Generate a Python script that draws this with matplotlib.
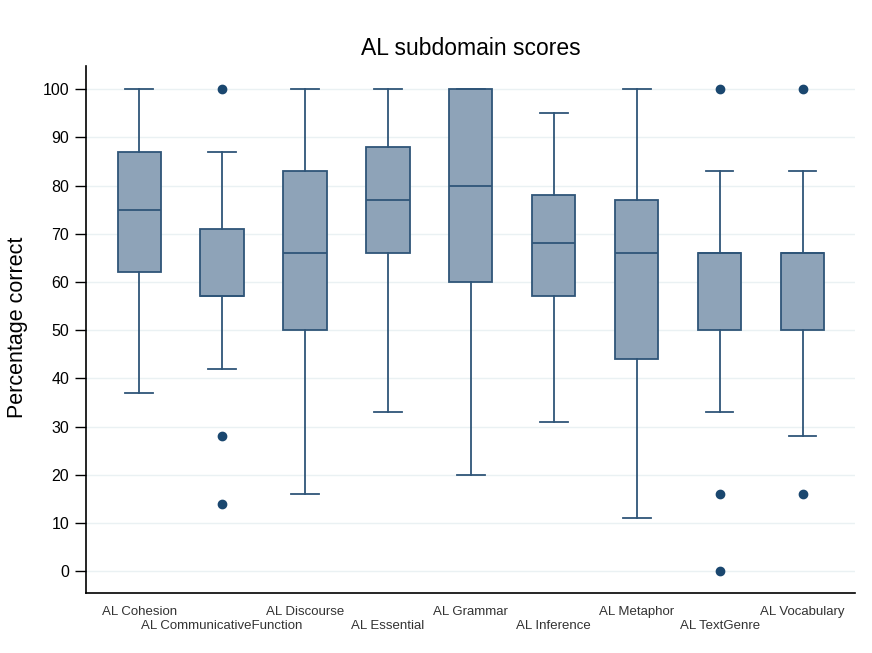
import numpy as np
import matplotlib
matplotlib.use('Agg')
from matplotlib import pyplot as plt

plt.rcParams['font.family'] = ['Liberation Sans', 'DejaVu Sans']

# subdomain names and box statistics
names = ['AL Cohesion', 'AL CommunicativeFunction', 'AL Discourse', 'AL Essential',
         'AL Grammar', 'AL Inference', 'AL Metaphor', 'AL TextGenre', 'AL Vocabulary']
lo_whisk = [37, 42, 16, 33, 20, 31, 11, 33, 28]
q1 = [62, 57, 50, 66, 60, 57, 44, 50, 50]
med = [75, 57, 66, 77, 80, 68, 66, 66, 66]
q3 = [87, 71, 83, 88, 100, 78, 77, 66, 66]
hi_whisk = [100, 87, 100, 100, 100, 95, 100, 83, 83]
outliers = [[], [100, 28, 14], [], [], [], [], [], [100, 16, 0], [100, 16]]

box_fill = '#8ea3b8'
box_edge = '#2f5578'
navy = '#1a476f'

stats = []
for i in range(len(names)):
    stats.append({'whislo': lo_whisk[i], 'q1': q1[i], 'med': med[i], 'q3': q3[i],
                  'whishi': hi_whisk[i], 'fliers': outliers[i], 'label': names[i]})

fig = plt.figure(figsize=(8.72, 6.53), dpi=100)
ax = fig.add_axes([86/872, 1-593/653, (855-86)/872, (593-66)/653])

pos = np.arange(1, len(names)+1)
ax.bxp(stats, positions=pos, widths=0.52, patch_artist=True, showfliers=True,
       boxprops=dict(facecolor=box_fill, edgecolor=box_edge, lw=1.3),
       medianprops=dict(color=box_edge, lw=1.3),
       whiskerprops=dict(color=box_edge, lw=1.3),
       capprops=dict(color=box_edge, lw=1.3),
       capwidths=0.33,
       flierprops=dict(marker='o', markerfacecolor=navy, markeredgecolor=navy, markersize=6))

ax.set_xlim(0.36, 9.63)
ax.set_ylim(-4.5, 104.8)
ax.set_yticks(np.arange(0, 101, 10))
ax.yaxis.grid(True, color='#eaf1f3', lw=1)
ax.set_axisbelow(True)
ax.tick_params(axis='y', labelsize=11.5, length=8, width=1, pad=4)
ax.set_xticks(pos)
ax.set_xticklabels([])
ax.tick_params(axis='x', length=0)
for i, n in enumerate(names):
    yoff = -0.036 if i % 2 == 0 else -0.062
    ax.text(pos[i], yoff, n, transform=ax.get_xaxis_transform(), ha='center', va='center',
            fontsize=9.5, color='#333333')

ax.spines['top'].set_visible(False)
ax.spines['right'].set_visible(False)
ax.spines['left'].set_linewidth(1.2)
ax.spines['bottom'].set_linewidth(1.2)

fig.text(18/872, 1-327/653, 'Percentage correct', rotation=90, ha='center', va='center',
         fontsize=15.5)
ax.set_title('AL subdomain scores', fontsize=16.5, pad=8)

fig.savefig('out.png', dpi=100)
